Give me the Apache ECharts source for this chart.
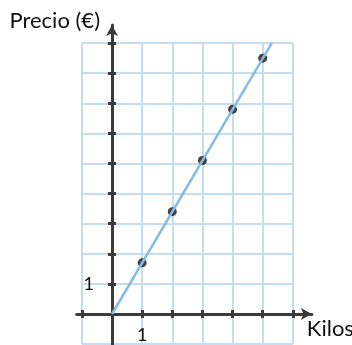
<!DOCTYPE html>
<html>
<head>
<meta charset="utf-8">
<script src="https://cdn.jsdelivr.net/npm/echarts@6/dist/echarts.min.js"></script>
<style>
  html, body { margin: 0; padding: 0; background: #fff; }
  #chart { width: 352px; height: 345px; }
</style>
</head>
<body>
<div id="chart"></div>
<script>
// puntos marcados (kilos, precio)
const kilos = [1, 2, 3, 4, 5];
const precios = [1.7, 3.4, 5.1, 6.8, 8.5];
// recta de proporcionalidad: desde el origen hasta el borde de la cuadrícula
const lineaKilos = [0, 5.3];
const lineaPrecios = [0, 9];
// marcas de los ejes y etiquetas
const ticksX = [-1, 1, 2, 3, 4, 5, 6];
const ticksY = [1, 2, 3, 4, 5, 6, 7, 8, 9];
const labelsX = [1];
const labelsY = [1];

const FONT = 'Lato';
const unitX = 30.14; // px por kilo
const unitY = 30.1;  // px por euro
const originX = 112;
const originY = 314;

// largo de los ejes negros (más que la cuadrícula)
const axMinX = -1.17, axMaxX = 6.63;
const axMinY = -1.2, axMaxY = 9.6;

const AXIS_COLOR = '#3a3a3a';

let chart = echarts.init(document.getElementById('chart'));

// eje horizontal (grid 1); inside=true solo dibuja las marcas hacia arriba
function ejeX(inside) {
  return {
    type: 'value', gridIndex: 1, position: 'bottom',
    min: axMinX, max: axMaxX,
    axisLine: {
      show: !inside, onZero: false,
      symbol: ['none', 'arrow'], symbolSize: [9, 11],
      lineStyle: { color: AXIS_COLOR, width: 3 }
    },
    axisTick: { show: true, inside: inside, customValues: ticksX, length: 4, lineStyle: { color: AXIS_COLOR, width: 3 } },
    axisLabel: {
      show: !inside, customValues: labelsX, margin: 12,
      color: '#111', fontFamily: FONT, fontSize: 18
    },
    splitLine: { show: false },
    name: inside ? '' : 'Kilos',
    nameGap: -5,
    nameTextStyle: {
      color: '#111', fontFamily: FONT, fontSize: 22,
      align: 'left', verticalAlign: 'top', padding: [4, 0, 0, 0]
    }
  };
}

// eje vertical (grid 2)
function ejeY(inside) {
  return {
    type: 'value', gridIndex: 2, position: 'left',
    min: axMinY, max: axMaxY,
    axisLine: {
      show: !inside, onZero: false,
      symbol: ['none', 'arrow'], symbolSize: [9, 11],
      lineStyle: { color: AXIS_COLOR, width: 3 }
    },
    axisTick: { show: true, inside: inside, customValues: ticksY, length: 4, lineStyle: { color: AXIS_COLOR, width: 3 } },
    axisLabel: {
      show: !inside, customValues: labelsY, margin: 18,
      color: '#111', fontFamily: FONT, fontSize: 18
    },
    splitLine: { show: false },
    name: inside ? '' : 'Precio (€)',
    nameGap: -7,
    nameTextStyle: { color: '#111', fontFamily: FONT, fontSize: 22, align: 'right', padding: [0, 12, 0, 0] }
  };
}

const oculto = {
  type: 'value', min: 0, max: 1, show: false,
  axisLine: { onZero: false }, splitLine: { show: false }
};

chart.setOption({
  animation: false,
  grid: [
    // cuadrícula azul y datos
    {
      left: originX - unitX, top: originY - 9 * unitY, width: 7 * unitX, height: 10 * unitY,
      outerBoundsMode: 'none'
    },
    // eje de kilos: su borde inferior es y = 0
    {
      left: originX + axMinX * unitX, top: originY - 50,
      width: (axMaxX - axMinX) * unitX, height: 50,
      outerBoundsMode: 'none'
    },
    // eje de precios: su borde izquierdo es x = 0
    {
      left: originX, top: originY - axMaxY * unitY,
      width: 50, height: (axMaxY - axMinY) * unitY,
      outerBoundsMode: 'none'
    }
  ],
  xAxis: [
    {
      type: 'value', gridIndex: 0, min: -1, max: 6, interval: 1,
      axisLine: { show: false, onZero: false }, axisTick: { show: false }, axisLabel: { show: false },
      splitLine: { show: true, lineStyle: { color: '#c3ddf2', width: 2 } }
    },
    ejeX(false),
    ejeX(true),
    Object.assign({ gridIndex: 2 }, oculto)
  ],
  yAxis: [
    {
      type: 'value', gridIndex: 0, min: -1, max: 9, interval: 1,
      axisLine: { show: false, onZero: false }, axisTick: { show: false }, axisLabel: { show: false },
      splitLine: { show: true, lineStyle: { color: '#c3ddf2', width: 2 } }
    },
    Object.assign({ gridIndex: 1 }, oculto),
    ejeY(false),
    ejeY(true)
  ],
  series: [
    {
      type: 'line', xAxisIndex: 0, yAxisIndex: 0,
      data: lineaKilos.map((k, i) => [k, lineaPrecios[i]]),
      showSymbol: false, silent: true,
      lineStyle: { color: '#86bbe3', width: 2.5 }
    },
    {
      type: 'scatter', xAxisIndex: 0, yAxisIndex: 0,
      data: kilos.map((k, i) => [k, precios[i]]),
      symbolSize: 9,
      itemStyle: { color: '#151515' }
    }
  ]
});
</script>
</body>
</html>
